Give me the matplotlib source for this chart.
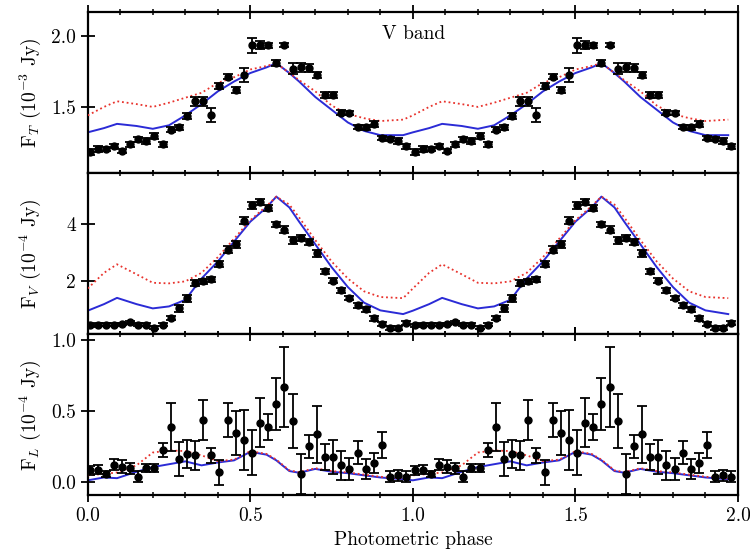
import numpy as np
import matplotlib.pyplot as plt
from matplotlib.ticker import MultipleLocator, FormatStrFormatter

plt.rcParams['font.family'] = 'cmr10'
plt.rcParams['mathtext.fontset'] = 'cm'
plt.rcParams['axes.formatter.use_mathtext'] = True

# folded light curve bins (one cycle, drawn twice)
phase = np.array([0.008, 0.03, 0.055, 0.08, 0.105, 0.13, 0.155, 0.18, 0.205, 0.23,
                  0.255, 0.28, 0.305, 0.33, 0.355, 0.38, 0.405, 0.43, 0.455, 0.48,
                  0.505, 0.53, 0.555, 0.58, 0.605, 0.63, 0.655, 0.68, 0.705, 0.73,
                  0.755, 0.78, 0.805, 0.83, 0.855, 0.88, 0.905, 0.93, 0.955, 0.98])

# total flux, 1e-3 Jy
f_t = [1.18, 1.20, 1.20, 1.225, 1.19, 1.235, 1.27, 1.26, 1.295, 1.235,
       1.34, 1.355, 1.435, 1.54, 1.54, 1.44, 1.65, 1.715, 1.62, 1.725,
       1.935, 1.94, 1.935, 1.81, 1.94, 1.77, 1.78, 1.775, 1.725, 1.585,
       1.585, 1.46, 1.455, 1.36, 1.355, 1.38, 1.28, 1.275, 1.26, 1.22]
f_t_err = [0.02, 0.02, 0.015, 0.015, 0.015, 0.02, 0.02, 0.02, 0.02, 0.02,
           0.02, 0.02, 0.02, 0.03, 0.03, 0.05, 0.02, 0.015, 0.02, 0.05,
           0.05, 0.03, 0.015, 0.02, 0.015, 0.04, 0.03, 0.03, 0.02, 0.02,
           0.02, 0.015, 0.015, 0.015, 0.015, 0.02, 0.015, 0.015, 0.02, 0.02]

# variable component, 1e-4 Jy
f_v = [0.46, 0.47, 0.48, 0.48, 0.50, 0.56, 0.48, 0.47, 0.37, 0.48,
       0.71, 1.06, 1.40, 1.94, 2.00, 2.07, 2.61, 3.12, 3.30, 4.14,
       4.68, 4.78, 4.57, 4.00, 3.82, 3.44, 3.52, 3.38, 2.99, 2.35,
       2.03, 1.68, 1.41, 1.16, 1.02, 0.70, 0.50, 0.36, 0.36, 0.54]
f_v_err = [0.05, 0.05, 0.05, 0.05, 0.05, 0.05, 0.05, 0.05, 0.05, 0.05,
           0.06, 0.12, 0.12, 0.12, 0.1, 0.1, 0.1, 0.12, 0.12, 0.12,
           0.12, 0.1, 0.1, 0.1, 0.12, 0.12, 0.1, 0.1, 0.12, 0.1,
           0.1, 0.08, 0.08, 0.08, 0.08, 0.08, 0.06, 0.06, 0.06, 0.06]

# line component, 1e-4 Jy
f_l = [0.085, 0.09, 0.06, 0.125, 0.11, 0.10, 0.04, 0.10, 0.10, 0.23,
       0.39, 0.165, 0.20, 0.19, 0.44, 0.19, 0.07, 0.44, 0.35, 0.30,
       0.21, 0.42, 0.39, 0.55, 0.67, 0.43, 0.06, 0.255, 0.34, 0.18,
       0.18, 0.12, 0.095, 0.21, 0.095, 0.135, 0.265, 0.04, 0.05, 0.04]
f_l_err = [0.03, 0.03, 0.02, 0.04, 0.045, 0.04, 0.04, 0.03, 0.03, 0.05,
           0.17, 0.12, 0.10, 0.10, 0.14, 0.05, 0.09, 0.12, 0.155, 0.21,
           0.16, 0.17, 0.09, 0.18, 0.28, 0.19, 0.14, 0.08, 0.20, 0.09,
           0.12, 0.10, 0.08, 0.08, 0.07, 0.07, 0.09, 0.04, 0.04, 0.04]

# model curves
model_phase = np.array([0, 0.05, 0.09, 0.15, 0.2, 0.25, 0.3, 0.35, 0.4, 0.45, 0.5,
                        0.55, 0.58, 0.62, 0.65, 0.7, 0.75, 0.8, 0.85, 0.9, 0.97, 1.0])
mod_t_blue = [1.32, 1.35, 1.38, 1.365, 1.345, 1.37, 1.44, 1.52, 1.61, 1.68, 1.74,
              1.78, 1.81, 1.74, 1.68, 1.57, 1.48, 1.39, 1.33, 1.30, 1.30, 1.32]
mod_t_red = [1.44, 1.50, 1.54, 1.52, 1.50, 1.53, 1.565, 1.60, 1.67, 1.71, 1.765,
             1.79, 1.81, 1.74, 1.69, 1.61, 1.51, 1.45, 1.42, 1.40, 1.41, 1.44]
mod_v_blue = [0.97, 1.2, 1.42, 1.2, 1.05, 1.12, 1.35, 2.1, 2.7, 3.4, 4.1,
              4.6, 4.98, 4.6, 4.1, 3.3, 2.5, 1.8, 1.25, 0.98, 0.85, 0.97]
mod_v_red = [1.75, 2.3, 2.6, 2.25, 1.95, 1.93, 2.0, 2.3, 2.85, 3.5, 4.15,
             4.65, 4.98, 4.7, 4.25, 3.45, 2.7, 2.1, 1.65, 1.45, 1.41, 1.75]
mod_l_blue = [0.015, 0.035, 0.03, 0.075, 0.108, 0.128, 0.148, 0.12, 0.14, 0.155, 0.215,
              0.195, 0.155, 0.08, 0.068, 0.095, 0.075, 0.065, 0.05, 0.035, 0.022, 0.015]
mod_l_red = [0.05, 0.06, 0.07, 0.12, 0.21, 0.225, 0.22, 0.19, 0.15, 0.16, 0.22,
             0.2, 0.16, 0.085, 0.072, 0.1, 0.08, 0.07, 0.055, 0.04, 0.028, 0.05]


def two_cycles(x, y, drop_last=False):
    x = np.asarray(x)
    y = np.asarray(y)
    end = -1 if drop_last else None
    return np.concatenate([x, x[:end] + 1]), np.concatenate([y, y[:end]])


fig, axes = plt.subplots(3, 1, figsize=(7.5, 5.59), sharex=True)
fig.subplots_adjust(left=0.117, right=0.984, top=0.978, bottom=0.114, hspace=0)

panels = [
    (f_t, f_t_err, mod_t_blue, mod_t_red, r'F$_{T}$ (10$^{-3}$ Jy)', (1.03, 2.17), 0.5),
    (f_v, f_v_err, mod_v_blue, mod_v_red, r'F$_{V}$ (10$^{-4}$ Jy)', (0.14, 5.8), 2),
    (f_l, f_l_err, mod_l_blue, mod_l_red, r'F$_{L}$ (10$^{-4}$ Jy)', (-0.09, 1.04), 0.5),
]

for ax, (y, yerr, blue, red, label, ylim, step) in zip(axes, panels):
    xb, yb = two_cycles(model_phase, blue, drop_last=True)
    xr, yr = two_cycles(model_phase, red, drop_last=True)
    ax.plot(xb, yb, color='#2b2bd6', lw=1.4, zorder=2)
    ax.plot(xr, yr, color='#e8322c', lw=1.3, ls=(0, (1, 1.6)), zorder=3)

    xd, yd = two_cycles(phase, y)
    _, ye = two_cycles(phase, yerr)
    ax.errorbar(xd, yd, yerr=ye, fmt='o', color='k', ms=5, capsize=3.5,
                elinewidth=1.3, capthick=1.3, zorder=4)

    ax.set_ylim(*ylim)
    ax.set_ylabel(label, fontsize=14, labelpad=6)
    ax.yaxis.set_major_locator(MultipleLocator(step))
    if step == 2:
        ax.yaxis.set_major_formatter(FormatStrFormatter('%d'))
    else:
        ax.yaxis.set_major_formatter(FormatStrFormatter('%.1f'))
    ax.tick_params(axis='both', which='major', direction='inout', length=10,
                   width=1.3, labelsize=14, top=True)
    ax.tick_params(axis='x', which='minor', direction='inout', length=5,
                   width=1.1, top=True)
    for sp in ax.spines.values():
        sp.set_linewidth(1.6)

axes[0].set_xlim(0, 2)
axes[0].xaxis.set_major_locator(MultipleLocator(0.5))
axes[0].xaxis.set_minor_locator(MultipleLocator(0.1))
axes[-1].xaxis.set_major_formatter(FormatStrFormatter('%.1f'))
axes[-1].set_xlabel('Photometric phase', fontsize=14)
axes[0].text(0.906, 1.98, 'V band', fontsize=14)

fig.align_ylabels(axes)
fig.savefig('out.png', dpi=100)
